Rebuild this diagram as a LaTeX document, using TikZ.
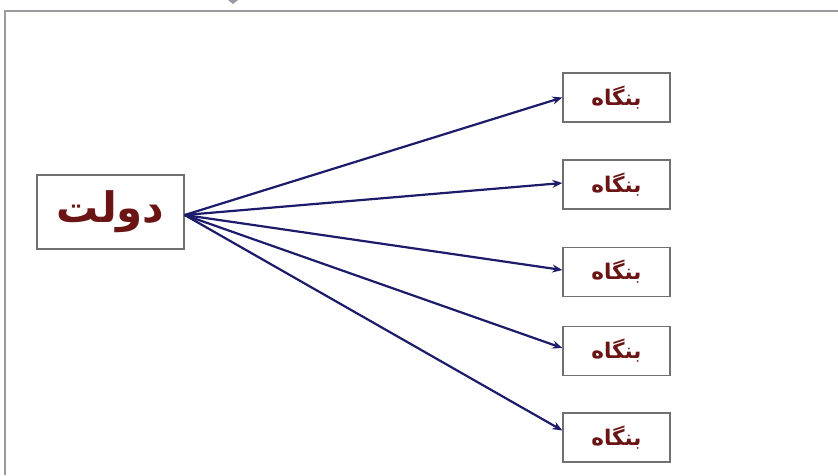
\documentclass[tikz,border=0pt]{standalone}
\usepackage{fontspec}
\TeXXeTstate=1
\newfontfamily\arabicfont[Script=Arabic]{DejaVu Sans}
\usetikzlibrary{arrows.meta}
\definecolor{txt}{HTML}{6B1414}
\definecolor{arr}{HTML}{1C1C6A}
\definecolor{framec}{HTML}{9A9AA2}
\definecolor{boxc}{HTML}{707070}
\begin{document}
\begin{tikzpicture}[x=1pt,y=-1pt,
  firm/.style={draw=boxc, line width=1.3pt, fill=white, minimum width=107pt, minimum height=49pt, inner sep=0pt, text=txt, font=\arabicfont\bfseries\fontsize{21.5}{24}\selectfont},
  gov/.style={draw=boxc, line width=1.3pt, fill=white, minimum width=147pt, minimum height=74pt, inner sep=0pt, text=txt, font=\arabicfont\bfseries\fontsize{42}{48}\selectfont},
  link/.style={draw=arr, line width=2.2pt, -{Stealth[length=10pt,width=8pt]}}]
\useasboundingbox (0,0) rectangle (838,475);
\fill[white] (0,0) rectangle (838,475);
\draw[framec, line width=2.5pt] (5,475) -- (5,11) -- (838,11);
\fill[framec] (228,0) -- (238,0) -- (233,4) -- cycle;
\node[gov] (g) at (110.5,212) {\beginR دولت\endR};
\node[firm] (f1) at (616.5,97.5) {\beginR بنگاه\endR};
\node[firm] (f2) at (616.5,184.5) {\beginR بنگاه\endR};
\node[firm] (f3) at (616.5,272) {\beginR بنگاه\endR};
\node[firm] (f4) at (616.5,351) {\beginR بنگاه\endR};
\node[firm] (f5) at (616.5,437.5) {\beginR بنگاه\endR};
\coordinate (src) at ([yshift=-3pt]g.east);
\draw[link] (src) -- (f1.west);
\draw[link] (src) -- ([yshift=1.5pt]f2.west);
\draw[link] (src) -- ([yshift=2pt]f3.west);
\draw[link] (src) -- ([yshift=3pt]f4.west);
\draw[link] (src) -- ([yshift=7pt]f5.west);
\end{tikzpicture}
\end{document}
